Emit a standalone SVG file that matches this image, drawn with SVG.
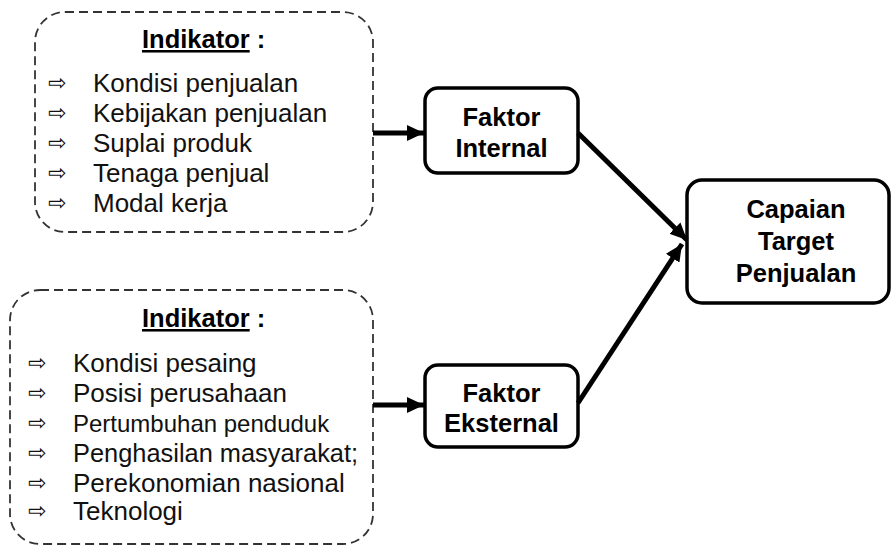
<svg xmlns="http://www.w3.org/2000/svg" width="891" height="549" viewBox="0 0 891 549">
<defs>
<style>
.dash{fill:none;stroke:#333;stroke-width:1.8;stroke-dasharray:9 5}
.node{fill:#fff;stroke:#000;stroke-width:3.5}
.t{font-family:"Liberation Sans",Arial,sans-serif;font-size:26px;fill:#111}
.b{font-family:"Liberation Sans",Arial,sans-serif;font-size:25.5px;font-weight:bold;fill:#000}
.ar{font-family:"DejaVu Sans",sans-serif;font-size:22px;fill:#111}
.c{stroke:#000;stroke-width:5;fill:none}
</style>
<marker id="ah" markerWidth="3.4" markerHeight="3.2" refX="3.4" refY="1.6" orient="auto" markerUnits="strokeWidth">
<path d="M0,0 L3.4,1.6 L0,3.2 Z" fill="#000"/>
</marker>
</defs>
<rect width="891" height="549" fill="#fff"/>
<g id="indikator-internal">
<rect class="dash" x="35" y="12" width="338" height="220" rx="30"/>
<text class="b" x="142" y="48"><tspan text-decoration="underline">Indikator</tspan> :</text>
<text class="ar" x="48" y="90">⇨</text>
<text class="ar" x="48" y="120">⇨</text>
<text class="ar" x="48" y="150">⇨</text>
<text class="ar" x="48" y="180">⇨</text>
<text class="ar" x="48" y="210">⇨</text>
<text class="t" x="93" y="92">Kondisi penjualan</text>
<text class="t" x="93" y="122">Kebijakan penjualan</text>
<text class="t" x="93" y="152">Suplai produk</text>
<text class="t" x="93" y="182">Tenaga penjual</text>
<text class="t" x="93" y="212">Modal kerja</text>
</g>
<g id="indikator-eksternal">
<rect class="dash" x="10" y="290" width="363" height="254" rx="30"/>
<text class="b" x="142" y="327"><tspan text-decoration="underline">Indikator</tspan> :</text>
<text class="ar" x="28" y="370">⇨</text>
<text class="ar" x="28" y="400">⇨</text>
<text class="ar" x="28" y="430">⇨</text>
<text class="ar" x="28" y="460">⇨</text>
<text class="ar" x="28" y="490">⇨</text>
<text class="ar" x="28" y="518">⇨</text>
<text class="t" x="73" y="372">Kondisi pesaing</text>
<text class="t" x="73" y="402">Posisi perusahaan</text>
<text class="t" x="73" y="432" style="font-size:24px">Pertumbuhan penduduk</text>
<text class="t" x="73" y="462" style="font-size:25.4px">Penghasilan masyarakat;</text>
<text class="t" x="73" y="492">Perekonomian nasional</text>
<text class="t" x="73" y="520">Teknologi</text>
</g>
<g id="faktor-internal">
<rect class="node" x="425" y="88" width="153" height="85" rx="13"/>
<text class="b" x="501.5" y="126" text-anchor="middle">Faktor</text>
<text class="b" x="501.5" y="157" text-anchor="middle">Internal</text>
</g>
<g id="faktor-eksternal">
<rect class="node" x="425" y="365" width="153" height="82" rx="13"/>
<text class="b" x="501.5" y="402" text-anchor="middle">Faktor</text>
<text class="b" x="501.5" y="432" text-anchor="middle">Eksternal</text>
</g>
<g id="capaian">
<rect class="node" x="687" y="180" width="202" height="123" rx="15"/>
<text class="b" x="796" y="218" text-anchor="middle">Capaian</text>
<text class="b" x="796" y="250" text-anchor="middle">Target</text>
<text class="b" x="796" y="282" text-anchor="middle">Penjualan</text>
</g>
<g id="connectors">
<line class="c" x1="373" y1="133" x2="424" y2="133" marker-end="url(#ah)"/>
<line class="c" x1="373" y1="405" x2="424" y2="405" marker-end="url(#ah)"/>
<line class="c" x1="578" y1="133" x2="687" y2="240" marker-end="url(#ah)"/>
<line class="c" x1="578" y1="403" x2="682" y2="244" marker-end="url(#ah)"/>
</g>
</svg>
